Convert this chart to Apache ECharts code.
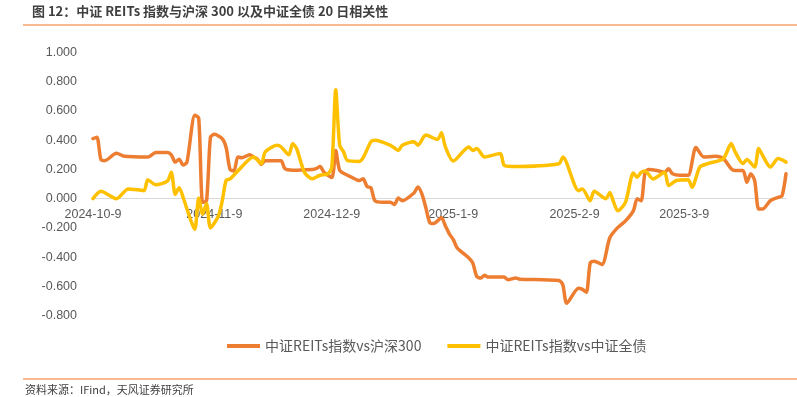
<!DOCTYPE html>
<html>
<head>
<meta charset="utf-8">
<script src="https://cdn.jsdelivr.net/npm/echarts@6/dist/echarts.min.js"></script>
<style>
  html, body { margin: 0; padding: 0; background: #fff; }
  #chart { width: 797px; height: 397px; }
</style>
</head>
<body>
<div id="chart"></div>
<script>
// 中证REITs指数 vs 沪深300 20日相关性
const hsDates = [
  '2024-10-09', '2024-10-10', '2024-10-11', '2024-10-12', '2024-10-15', '2024-10-17', '2024-10-23', '2024-10-25',
  '2024-10-28', '2024-10-29', '2024-10-30', '2024-10-31', '2024-11-01', '2024-11-02', '2024-11-04', '2024-11-05',
  '2024-11-06', '2024-11-07', '2024-11-08', '2024-11-09', '2024-11-11', '2024-11-12', '2024-11-13', '2024-11-14',
  '2024-11-15', '2024-11-16', '2024-11-18', '2024-11-19', '2024-11-20', '2024-11-21', '2024-11-22', '2024-11-26',
  '2024-11-27', '2024-11-29', '2024-12-04', '2024-12-05', '2024-12-06', '2024-12-07', '2024-12-09', '2024-12-10',
  '2024-12-11', '2024-12-13', '2024-12-14', '2024-12-16', '2024-12-17', '2024-12-18', '2024-12-19', '2024-12-20',
  '2024-12-22', '2024-12-24', '2024-12-25', '2024-12-26', '2024-12-27', '2024-12-30', '2024-12-31', '2025-01-01',
  '2025-01-02', '2025-01-03', '2025-01-04', '2025-01-05', '2025-01-06', '2025-01-07', '2025-01-08', '2025-01-09',
  '2025-01-10', '2025-01-13', '2025-01-14', '2025-01-15', '2025-01-16', '2025-01-17', '2025-01-18', '2025-01-22',
  '2025-01-23', '2025-01-25', '2025-01-26', '2025-02-05', '2025-02-06', '2025-02-07', '2025-02-10', '2025-02-11',
  '2025-02-12', '2025-02-13', '2025-02-14', '2025-02-16', '2025-02-18', '2025-02-20', '2025-02-22', '2025-02-24',
  '2025-02-25', '2025-02-26', '2025-02-27', '2025-02-28', '2025-03-02', '2025-03-04', '2025-03-05', '2025-03-06',
  '2025-03-08', '2025-03-10', '2025-03-12', '2025-03-14', '2025-03-17', '2025-03-19', '2025-03-21', '2025-03-22',
  '2025-03-24', '2025-03-25', '2025-03-26', '2025-03-27', '2025-03-28', '2025-03-29', '2025-03-31', '2025-04-02',
  '2025-04-03', '2025-04-04'
];
const hsVals = [
  0.41, 0.42, 0.27, 0.26, 0.31, 0.29, 0.285, 0.315,
  0.315, 0.30, 0.25, 0.27, 0.23, 0.25, 0.57, 0.55,
  -0.025, -0.015, 0.42, 0.44, 0.41, 0.35, 0.20, 0.19,
  0.285, 0.28, 0.30, 0.285, 0.27, 0.235, 0.26, 0.26,
  0.205, 0.195, 0.20, 0.205, 0.22, 0.18, 0.145, 0.33,
  0.195, 0.16, 0.147, 0.124, 0.136, 0.083, 0.074, -0.014,
  -0.025, -0.025, -0.04, 0.005, -0.014, 0.04, 0.08, 0.032,
  -0.06, -0.163, -0.17, -0.152, -0.129, -0.186, -0.24, -0.278,
  -0.336, -0.405, -0.44, -0.531, -0.543, -0.524, -0.536, -0.536,
  -0.554, -0.543, -0.55, -0.559, -0.589, -0.715, -0.612, -0.62,
  -0.64, -0.44, -0.427, -0.45, -0.267, -0.198, -0.152, -0.083,
  0.0, -0.014, 0.18, 0.20, 0.193, 0.18, 0.205, 0.17,
  0.16, 0.16, 0.35, 0.285, 0.29, 0.274, 0.205, 0.193,
  0.193, 0.112, 0.17, 0.124, -0.071, -0.071, -0.014, 0.009,
  0.02, 0.17
];

// 中证REITs指数 vs 中证全债 20日相关性
const bondDates = [
  '2024-10-09', '2024-10-11', '2024-10-15', '2024-10-18', '2024-10-22', '2024-10-23', '2024-10-25', '2024-10-28',
  '2024-10-29', '2024-10-30', '2024-10-31', '2024-11-01', '2024-11-03', '2024-11-04', '2024-11-05', '2024-11-06',
  '2024-11-07', '2024-11-08', '2024-11-10', '2024-11-11', '2024-11-12', '2024-11-13', '2024-11-15', '2024-11-19',
  '2024-11-21', '2024-11-22', '2024-11-25', '2024-11-26', '2024-11-28', '2024-11-29', '2024-11-30', '2024-12-02',
  '2024-12-04', '2024-12-06', '2024-12-08', '2024-12-09', '2024-12-10', '2024-12-11', '2024-12-12', '2024-12-13',
  '2024-12-16', '2024-12-17', '2024-12-19', '2024-12-20', '2024-12-24', '2024-12-26', '2024-12-27', '2024-12-30',
  '2024-12-31', '2025-01-02', '2025-01-05', '2025-01-06', '2025-01-07', '2025-01-09', '2025-01-13', '2025-01-14',
  '2025-01-15', '2025-01-17', '2025-01-21', '2025-01-22', '2025-01-24', '2025-02-05', '2025-02-06', '2025-02-10',
  '2025-02-11', '2025-02-13', '2025-02-14', '2025-02-17', '2025-02-18', '2025-02-19', '2025-02-20', '2025-02-22',
  '2025-02-24', '2025-02-25', '2025-02-26', '2025-02-27', '2025-03-01', '2025-03-04', '2025-03-05', '2025-03-07',
  '2025-03-10', '2025-03-11', '2025-03-13', '2025-03-15', '2025-03-19', '2025-03-21', '2025-03-22', '2025-03-24',
  '2025-03-25', '2025-03-27', '2025-03-28', '2025-03-29', '2025-03-31', '2025-04-02', '2025-04-04'
];
const bondVals = [
  0.0, 0.05, 0.0, 0.067, 0.055, 0.13, 0.095, 0.12,
  0.18, 0.03, 0.075, 0.01, -0.15, -0.21, 0.005, -0.105,
  -0.035, -0.2, -0.12, -0.015, 0.125, 0.135, 0.19, 0.285,
  0.24, 0.32, 0.365, 0.355, 0.30, 0.377, 0.343, 0.18,
  0.136, 0.16, 0.17, 0.216, 0.745, 0.365, 0.32, 0.26,
  0.255, 0.28, 0.39, 0.40, 0.365, 0.33, 0.365, 0.39,
  0.365, 0.435, 0.405, 0.45, 0.354, 0.257, 0.354, 0.33,
  0.343, 0.285, 0.308, 0.228, 0.22, 0.239, 0.285, 0.055,
  0.067, -0.014, 0.05, 0.0, 0.043, -0.025, -0.083, -0.025,
  0.175, 0.147, 0.18, 0.19, 0.135, 0.18, 0.09, 0.124,
  0.13, 0.078, 0.216, 0.239, 0.274, 0.377, 0.32, 0.24,
  0.267, 0.216, 0.343, 0.297, 0.216, 0.274, 0.25
];

const seriesNames = ['中证REITs指数vs沪深300', '中证REITs指数vs中证全债'];
const xTickLabels = ['2024-10-9', '2024-11-9', '2024-12-9', '2025-1-9', '2025-2-9', '2025-3-9'];
const xRange = ['2024-10-09', '2025-04-04'];
const yMin = -0.8;
const yMax = 1.0;

const parse = s => +echarts.number.parseDate(s);
const pairs = (dates, vals) => dates.map((d, i) => [parse(d), vals[i]]);
const tickValues = xTickLabels.map(parse);

// 绘图区
const gridTop = 52.4;
const gridBottom = 81.3;
const plotHeight = 397 - gridTop - gridBottom;
// x 轴放在 0 值处
const zeroOffset = -plotHeight * (0 - yMin) / (yMax - yMin);

const chart = echarts.init(document.getElementById('chart'));

const axisFont = { fontFamily: 'Liberation Sans', fontSize: 12.5, color: '#595959' };

chart.setOption({
  animation: false,
  backgroundColor: '#fff',
  title: [
    {
      text: '图 12：中证 REITs 指数与沪深 300 以及中证全债 20 日相关性',
      left: 32,
      top: 5,
      padding: 0,
      textStyle: {
        fontFamily: 'Noto Sans CJK SC',
        fontSize: 13,
        fontWeight: 'bold',
        color: '#3f3f3f'
      }
    },
    {
      text: '资料来源：IFind，天风证券研究所',
      left: 25,
      top: 384,
      padding: 0,
      textStyle: {
        fontFamily: 'Noto Sans CJK SC',
        fontSize: 11,
        fontWeight: 'normal',
        color: '#404040'
      }
    }
  ],
  graphic: [
    { type: 'line', shape: { x1: 23, y1: 25, x2: 797, y2: 25 }, style: { stroke: '#f4a46a', lineWidth: 1.5 } },
    { type: 'line', shape: { x1: 23, y1: 379, x2: 797, y2: 379 }, style: { stroke: '#f4a46a', lineWidth: 1.5 } }
  ],
  legend: {
    left: 227,
    top: 339,
    padding: 0,
    icon: 'rect',
    itemWidth: 33,
    itemHeight: 4,
    itemGap: 26,
    data: seriesNames,
    textStyle: { fontFamily: 'Noto Sans CJK SC', fontSize: 14, color: '#595959' }
  },
  grid: {
    left: 93,
    right: 11,
    top: gridTop,
    bottom: gridBottom,
    containLabel: false
  },
  xAxis: {
    type: 'value',
    min: parse(xRange[0]),
    max: parse(xRange[1]),
    offset: zeroOffset,
    axisLine: { onZero: false, lineStyle: { color: '#d9d9d9', width: 1 } },
    axisTick: { show: false },
    splitLine: { show: false },
    axisLabel: Object.assign({}, axisFont, {
      customValues: tickValues,
      margin: 9,
      formatter: val => xTickLabels[tickValues.indexOf(val)] || ''
    })
  },
  yAxis: {
    type: 'value',
    min: yMin,
    max: yMax,
    interval: 0.2,
    axisLine: { show: false, onZero: false },
    axisTick: { show: false },
    splitLine: { show: false },
    axisLabel: Object.assign({}, axisFont, {
      margin: 16,
      formatter: v => v.toFixed(3)
    })
  },
  series: [
    {
      name: seriesNames[0],
      type: 'line',
      data: pairs(hsDates, hsVals),
      showSymbol: false,
      symbol: 'none',
      smooth: 0.25,
      lineStyle: { color: '#ED7D31', width: 3.5, cap: 'round', join: 'round' },
      itemStyle: { color: '#ED7D31' },
      z: 2
    },
    {
      name: seriesNames[1],
      type: 'line',
      data: pairs(bondDates, bondVals),
      showSymbol: false,
      symbol: 'none',
      smooth: 0.25,
      lineStyle: { color: '#FFC000', width: 3.5, cap: 'round', join: 'round' },
      itemStyle: { color: '#FFC000' },
      z: 3
    }
  ]
});
</script>
</body>
</html>
